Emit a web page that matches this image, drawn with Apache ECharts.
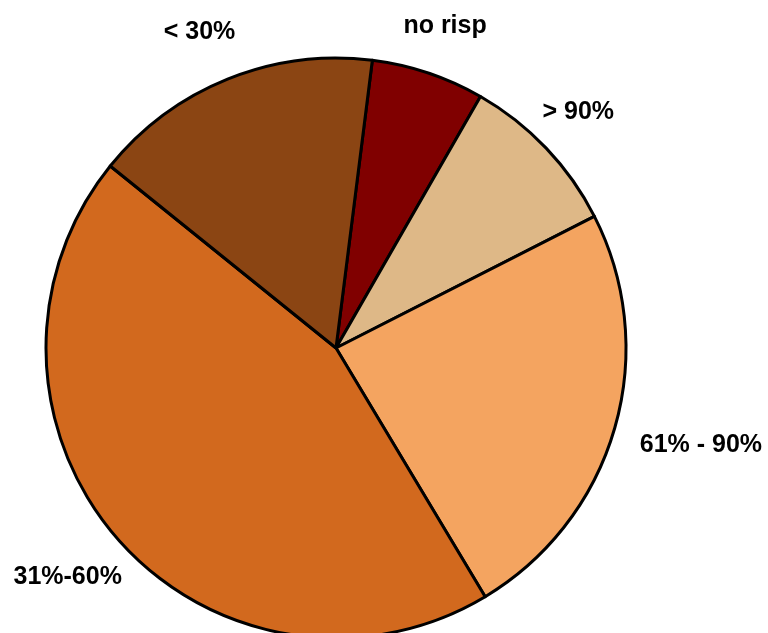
<!DOCTYPE html>
<html>
<head>
<meta charset="utf-8">
<script src="https://cdn.jsdelivr.net/npm/echarts@6/dist/echarts.min.js"></script>
<style>
  html, body { margin: 0; padding: 0; background: #ffffff; }
  #chart { width: 768px; height: 633px; }
</style>
</head>
<body>
<div id="chart"></div>
<script>
// Slice names and shares (percent), clockwise from the first slice
const categories = ['no risp', '> 90%', '61% - 90%', '31%-60%', '< 30%'];
const values = [6.3, 9.2, 23.9, 44.4, 16.2];
const colors = ['#800000', '#DEB887', '#F4A460', '#D2691E', '#8B4513'];

// Layout of the pie (pixels / degrees)
const CX = 336, CY = 348, R = 290;
const START = 7.2; // clockwise from 12 o'clock
// Label centre distance from pie centre, and a small angular nudge per label
const labelDist = [343, 340, 377, 351, 347];
const labelNudge = [0, -1, -1.5, 0.9, -1.2];
const LABEL_DY = 3; // glyph baseline correction

const total = values.reduce((a, b) => a + b, 0);
const midAngles = [];
let acc = START;
values.forEach(v => {
  const span = v / total * 360;
  midAngles.push(acc + span / 2);
  acc += span;
});

const chart = echarts.init(document.getElementById('chart'), null, { renderer: 'canvas' });
chart.setOption({
  backgroundColor: '#ffffff',
  animation: false,
  series: [{
    type: 'pie',
    center: [CX, CY],
    radius: [0, R],
    startAngle: 90 - START,
    clockwise: true,
    avoidLabelOverlap: false,
    data: categories.map((name, i) => ({
      name,
      value: values[i],
      itemStyle: { color: colors[i] }
    })),
    itemStyle: { borderColor: '#000000', borderWidth: 3 },
    emphasis: { disabled: true },
    label: {
      show: true,
      position: 'outside',
      formatter: '{b}',
      fontFamily: '"Liberation Sans", Arial, sans-serif',
      fontWeight: 'bold',
      fontSize: 25,
      color: '#000000'
    },
    labelLine: { show: false },
    labelLayout: function (p) {
      const i = p.dataIndex;
      const a = (midAngles[i] + labelNudge[i]) * Math.PI / 180;
      const d = labelDist[i];
      return {
        x: CX + d * Math.sin(a),
        y: CY - d * Math.cos(a) + LABEL_DY,
        align: 'center',
        verticalAlign: 'middle'
      };
    }
  }]
});
</script>
</body>
</html>
